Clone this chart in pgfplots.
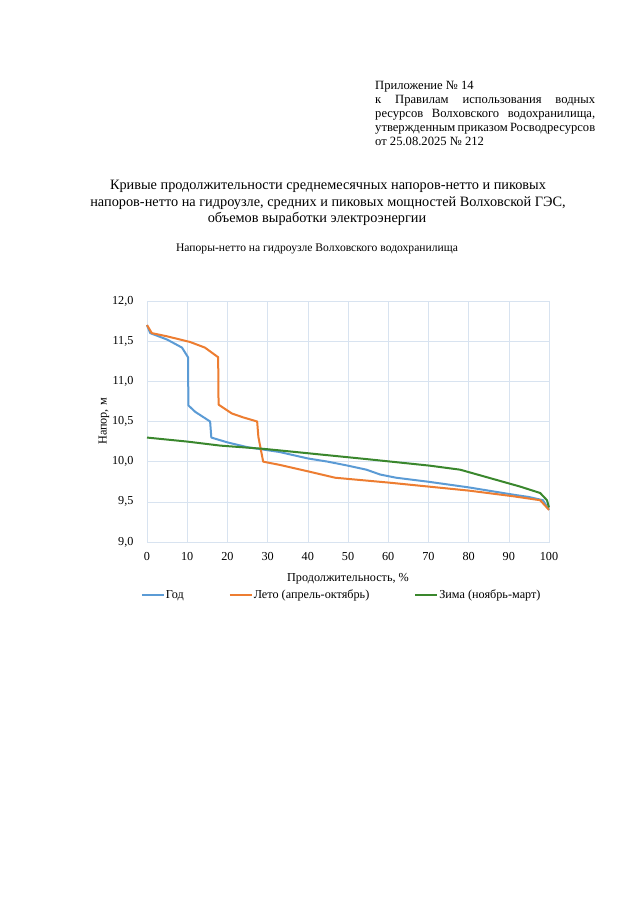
\documentclass[border=0pt]{standalone}
\usepackage{pgfplots}
\pgfplotsset{compat=1.18}
\usepackage{fontspec}
\setmainfont{Liberation Serif}

\definecolor{god}{RGB}{91,155,213}
\definecolor{leto}{RGB}{237,125,49}
\definecolor{zima}{RGB}{58,135,45}
\definecolor{gridc}{RGB}{216,227,240}

\begin{document}
\begin{tikzpicture}[x=1pt,y=1pt]
\path[fill=white,use as bounding box] (0,0) rectangle (640,902);

% header block (pixel rows measured from the top)
\begin{scope}[every node/.style={anchor=base west,inner sep=0pt,font=\fontsize{12.6}{14}\selectfont}]
\node at (375,902-89.5) {Приложение № 14};
\node at (375,902-103.5) {\makebox[220pt][s]{к Правилам использования водных}};
\node at (375,902-117.5) {\makebox[220pt][s]{ресурсов Волховского водохранилища,}};
\node at (375,902-132) {\makebox[220pt][s]{утвержденным приказом Росводресурсов}};
\node at (375,902-146) {от 25.08.2025 № 212};
\end{scope}

\begin{scope}[every node/.style={anchor=base,inner sep=0pt,font=\fontsize{14.3}{16}\selectfont}]
\node at (328,902-190) {Кривые продолжительности среднемесячных напоров-нетто и пиковых};
\node at (328,902-207) {напоров-нетто на гидроузле, средних и пиковых мощностей Волховской ГЭС,};
\node at (317,902-223) {объемов выработки электроэнергии};
\end{scope}
\node[anchor=base,inner sep=0pt,font=\fontsize{11.6}{14}\selectfont] at (317,902-252) {Напоры-нетто на гидроузле Волховского водохранилища};

\begin{axis}[
  at={(147pt,360pt)}, anchor=south west,
  width=402pt, height=241pt, scale only axis,
  xmin=0, xmax=100, ymin=9, ymax=12,
  xtick={0,10,20,30,40,50,60,70,80,90,100},
  ytick={9,9.5,10,10.5,11,11.5,12},
  grid=major,
  major grid style={draw=gridc,line width=0.6pt},
  axis line style={draw=gridc,line width=0.6pt},
  tick style={draw=none},
  /pgf/number format/assume math mode=true,
  ticklabel style={font=\fontsize{12.2}{14}\selectfont},
  yticklabel style={/pgf/number format/fixed,/pgf/number format/fixed zerofill,
    /pgf/number format/precision=1,/pgf/number format/use comma,xshift=-10pt},
  xticklabel style={yshift=-7pt},
  xlabel={Продолжительность, \%},
  xlabel style={at={(axis description cs:0.5,-0.153)},anchor=center,font=\fontsize{12.2}{14}\selectfont},
  ylabel={Напор, м},
  ylabel style={at={(axis description cs:-0.107,0.5)},anchor=center,font=\fontsize{12.2}{14}\selectfont},
  legend columns=3,
  legend style={at={(axis description cs:0.483,-0.22)},anchor=center,draw=none,fill=none,
    font=\fontsize{12.2}{14}\selectfont,nodes={inner sep=1pt},
    /tikz/every even column/.append style={column sep=44pt}},
  legend image code/.code={\draw[#1] (0pt,0pt) -- (22pt,0pt);},
  every axis plot/.append style={line width=2pt,line join=round},
  clip=false,
]
\addplot[god] coordinates {
 (0,11.70) (0.8,11.60) (5,11.52) (8.7,11.42) (10.2,11.30) (10.3,10.70)
 (12,10.62) (15.7,10.50) (16,10.30) (20,10.24) (25,10.18) (29,10.15)
 (33,10.12) (40,10.04) (45,10.00) (50,9.95) (54.6,9.90) (58,9.84)
 (62,9.80) (70,9.75) (80,9.68) (91,9.59) (95,9.56) (98.5,9.52) (100,9.40)};
\addplot[leto] coordinates {
 (0,11.70) (1.2,11.60) (5,11.56) (10.7,11.49) (14.4,11.42) (17.7,11.30)
 (17.8,10.71) (21.1,10.60) (24,10.55) (27.4,10.50) (27.7,10.31) (28.9,10.00)
 (33,9.96) (40,9.88) (46.8,9.80) (60,9.74) (70,9.69) (80,9.64) (91,9.57)
 (97.8,9.52) (100,9.40)};
\addplot[zima] coordinates {
 (0,10.30) (10,10.25) (18.2,10.20) (28.9,10.16) (33,10.14) (45,10.08)
 (55,10.03) (70.4,9.95) (77.9,9.90) (85,9.80) (92.8,9.69) (97.8,9.61)
 (99.5,9.52) (100,9.43)};
\legend{Год,Лето (апрель-октябрь),Зима (ноябрь-март)}
\end{axis}
\end{tikzpicture}
\end{document}
